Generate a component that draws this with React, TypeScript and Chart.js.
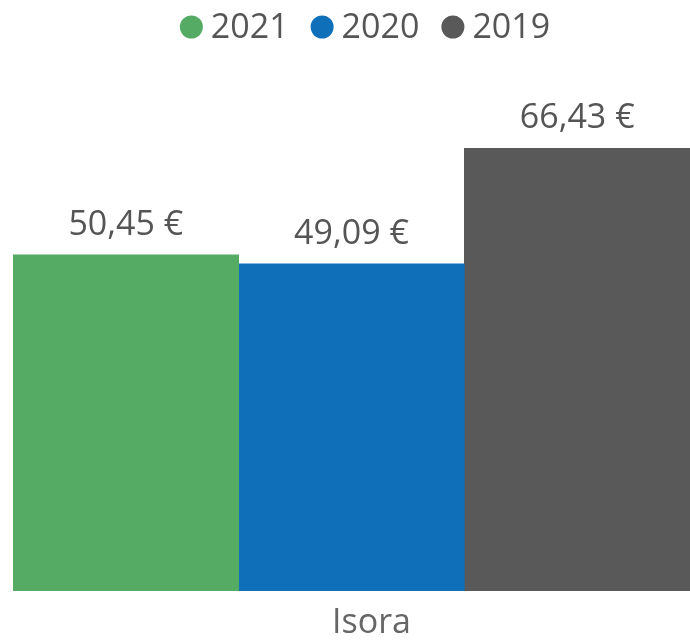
import { useEffect, useRef } from "react";
import { Chart, registerables } from "chart.js";

Chart.register(...registerables);

const categories = ["Isora"];
const seriesLabels = ["2021", "2020", "2019"];
const values2021 = [50.45];
const values2020 = [49.09];
const values2019 = [66.43];
const seriesColors = ["#56ab64", "#0f6fb8", "#595959"];
const yMax = 80;

const FONT = "'Open Sans', 'Noto Sans', sans-serif";

const fmt = (v: number) => v.toFixed(2).replace(".", ",") + " €";

const valueLabels = {
  id: "valueLabels",
  afterDatasetsDraw(chart: any, _args: any, opts: any) {
    const ctx = chart.ctx;
    ctx.save();
    ctx.font = `${opts.fontSize}px ${FONT}`;
    ctx.fillStyle = opts.color;
    ctx.textAlign = "center";
    ctx.textBaseline = "alphabetic";
    chart.data.datasets.forEach((ds: any, i: number) => {
      const meta = chart.getDatasetMeta(i);
      meta.data.forEach((el: any, j: number) => {
        ctx.fillText(fmt(ds.data[j]), el.x, el.y - opts.offset);
      });
    });
    ctx.restore();
  },
};

const dotLegend = {
  id: "dotLegend",
  afterDraw(chart: any, _args: any, opts: any) {
    const ctx = chart.ctx;
    ctx.save();
    ctx.font = `${opts.fontSize}px ${FONT}`;
    ctx.textBaseline = "middle";
    ctx.textAlign = "left";
    const items = chart.data.datasets.map((ds: any) => ({
      text: ds.label,
      color: ds.backgroundColor,
      w: ctx.measureText(ds.label).width,
    }));
    const total =
      items.reduce((s: number, it: any) => s + opts.dot + opts.gap + it.w, 0) +
      opts.spacing * (items.length - 1);
    let x = opts.centerX - total / 2;
    const cy = opts.centerY;
    items.forEach((it: any) => {
      ctx.beginPath();
      ctx.fillStyle = it.color;
      ctx.arc(x + opts.dot / 2, cy, opts.dot / 2, 0, Math.PI * 2);
      ctx.fill();
      x += opts.dot + opts.gap;
      ctx.fillStyle = opts.color;
      ctx.fillText(it.text, x, cy + 1);
      x += it.w + opts.spacing;
    });
    ctx.restore();
  },
};

export default function App() {
  const ref = useRef<HTMLCanvasElement | null>(null);

  useEffect(() => {
    if (!ref.current) return;
    const chart = new Chart(ref.current, {
      type: "bar",
      data: {
        labels: categories,
        datasets: [
          { label: seriesLabels[0], data: values2021, backgroundColor: seriesColors[0] },
          { label: seriesLabels[1], data: values2020, backgroundColor: seriesColors[1] },
          { label: seriesLabels[2], data: values2019, backgroundColor: seriesColors[2] },
        ],
      },
      options: {
        responsive: true,
        maintainAspectRatio: false,
        animation: false,
        layout: { padding: { left: 13, right: 0, top: 58, bottom: -14 } },
        datasets: { bar: { categoryPercentage: 1, barPercentage: 1 } },
        plugins: {
          legend: { display: false },
          tooltip: { enabled: false },
          valueLabels: { fontSize: 34, color: "#555555", offset: 20 },
          dotLegend: {
            fontSize: 34,
            color: "#555555",
            dot: 23,
            gap: 8,
            spacing: 22,
            centerX: 365,
            centerY: 27,
          },
        } as any,
        scales: {
          x: {
            grid: { display: false, drawTicks: false, tickLength: 0 },
            border: { display: false },
            ticks: {
              color: "#666666",
              font: { size: 34, family: FONT },
              padding: 11.6,
              labelOffset: 20,
            },
          },
          y: { display: false, min: 0, max: yMax },
        },
      },
      plugins: [valueLabels, dotLegend],
    });
    return () => chart.destroy();
  }, []);

  return (
    <div style={{ position: "fixed", left: 0, top: 0, width: 690, height: 641 }}>
      <canvas ref={ref} />
    </div>
  );
}
